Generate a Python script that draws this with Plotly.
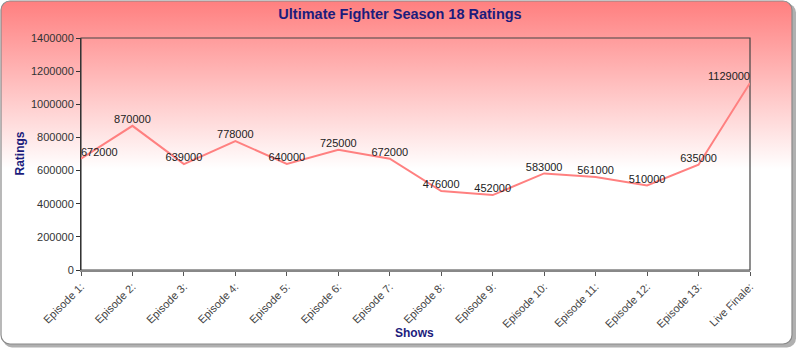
import base64
import plotly.graph_objects as go

shows = ["Episode 1:", "Episode 2:", "Episode 3:", "Episode 4:", "Episode 5:",
         "Episode 6:", "Episode 7:", "Episode 8:", "Episode 9:", "Episode 10:",
         "Episode 11:", "Episode 12:", "Episode 13:", "Live Finale:"]
ratings = [672000, 870000, 639000, 778000, 640000, 725000, 672000,
           476000, 452000, 583000, 561000, 510000, 635000, 1129000]
y_ticks = [0, 200000, 400000, 600000, 800000, 1000000, 1200000, 1400000]

W, H = 800, 353
ML, MR, MT, MB = 81, 50, 38, 83
PW, PH = W - ML - MR, H - MT - MB

NAVY = "#1c1c7c"
FONT = "Liberation Sans, Arial, sans-serif"

svg = f"""<svg xmlns='http://www.w3.org/2000/svg' width='{W}' height='{H}' viewBox='0 0 {W} {H}'>
<defs><linearGradient id='g' x1='0' y1='0' x2='0' y2='1'>
<stop offset='0' stop-color='#ff7f7f'/><stop offset='0.49' stop-color='#ffffff'/>
</linearGradient></defs>
<rect x='3' y='3.5' width='793' height='344' rx='9' fill='#b0b0b0'/>
<rect x='1' y='1' width='791' height='343' rx='9' fill='url(#g)' stroke='#8a8a8a' stroke-width='1.2'/>
</svg>"""
uri = "data:image/svg+xml;base64," + base64.b64encode(svg.encode()).decode()

positions = ["top center"] * len(ratings)
positions[0] = "top right"
positions[-1] = "top left"

fig = go.Figure()
fig.add_trace(go.Scatter(
    x=shows, y=ratings, mode="lines+text",
    line=dict(color="#ff8080", width=2),
    text=[str(v) for v in ratings], textposition=positions,
    textfont=dict(family=FONT, size=11, color="#222222"),
    cliponaxis=False, hoverinfo="skip", showlegend=False,
))

fig.update_layout(
    width=W, height=H,
    margin=dict(l=ML, r=MR, t=MT, b=MB, pad=0),
    paper_bgcolor="white", plot_bgcolor="rgba(0,0,0,0)",
    title=dict(text="<b>Ultimate Fighter Season 18 Ratings</b>", x=0.5, xanchor="center",
               y=1 - 14 / H, yanchor="middle", yref="container",
               font=dict(family=FONT, size=14.5, color=NAVY)),
    images=[dict(source=uri, xref="paper", yref="paper",
                 x=-ML / PW, y=1 + MT / PH, sizex=W / PW, sizey=H / PH,
                 xanchor="left", yanchor="top", sizing="stretch", layer="below")],
    shapes=[dict(type="rect", xref="paper", yref="paper", x0=0, x1=1, y0=0, y1=1,
                 line=dict(color="#444444", width=1.2), layer="below")],
    annotations=[
        dict(text="<b>Ratings</b>", xref="paper", yref="paper",
             x=(19.5 - ML) / PW, y=0.5, xanchor="center", yanchor="middle",
             textangle=-90, showarrow=False, font=dict(family=FONT, size=12, color=NAVY)),
        dict(text="<b>Shows</b>", xref="paper", yref="paper",
             x=(414 - ML) / PW, y=-(333 - MT - PH) / PH, xanchor="center", yanchor="middle",
             showarrow=False, font=dict(family=FONT, size=12, color=NAVY)),
    ],
)

fig.update_xaxes(
    type="category", range=[0, len(shows) - 1], tickangle=-45,
    showgrid=False, zeroline=False,
    showline=True, linecolor="#888888", linewidth=2,
    ticks="outside", ticklen=4, tickcolor="#555555", tickwidth=1,
    tickfont=dict(family=FONT, size=11, color="#444444"),
)
fig.update_yaxes(
    range=[0, 1400000], tickvals=y_ticks, ticktext=[str(v) for v in y_ticks],
    showgrid=False, zeroline=False,
    showline=True, linecolor="#333333", linewidth=1,
    ticks="outside", ticklen=4, tickcolor="#333333", tickwidth=1,
    tickfont=dict(family=FONT, size=11, color="#333333"),
)

fig.write_html("out.html")
